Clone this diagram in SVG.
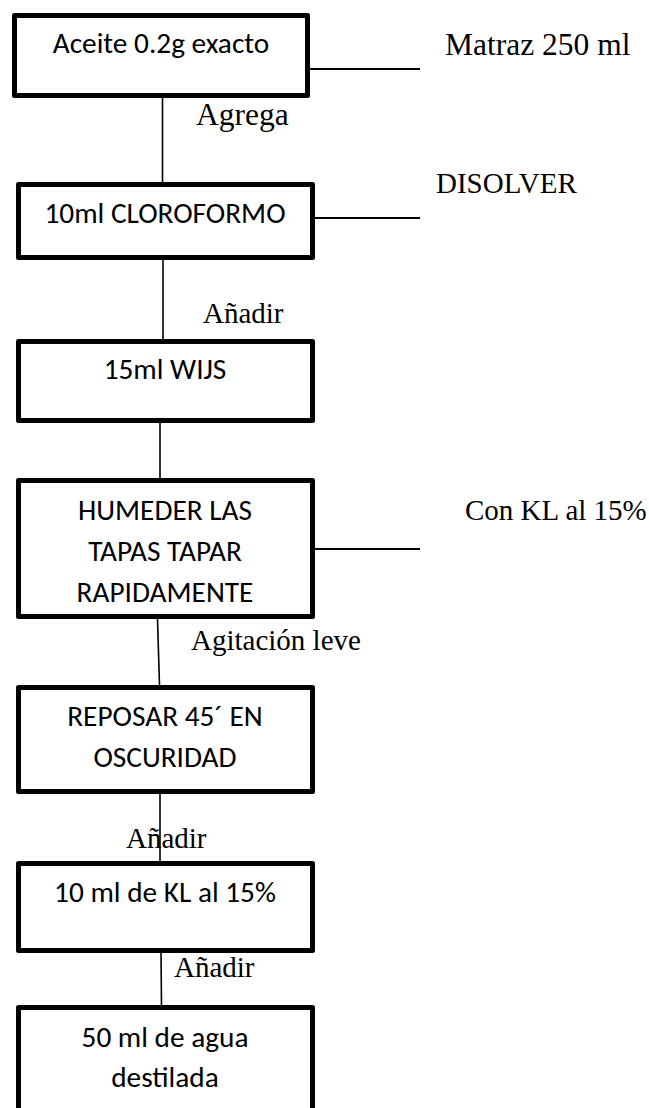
<svg xmlns="http://www.w3.org/2000/svg" width="649" height="1108" viewBox="0 0 649 1108">
  <style>
    .box { fill: #ffffff; stroke: #000000; stroke-width: 5; stroke-linejoin: round; }
    .step { font-family: Carlito, Calibri, Lato, "Liberation Sans", sans-serif; font-size: 29.3px; fill: #000000; text-anchor: middle; }
    .note { font-family: "Liberation Serif", "Times New Roman", serif; font-size: 29px; fill: #000000; }
    .big { font-size: 31.5px; }
    .link { stroke: #000000; stroke-width: 1.6; fill: none; }
    .side { stroke: #000000; stroke-width: 2.2; fill: none; }
  </style>
  <rect width="649" height="1108" fill="#ffffff"/>

  <!-- connectors -->
  <g id="connectors">
    <line class="link" x1="162.5" y1="98" x2="162.5" y2="182"/>
    <line class="link" x1="163" y1="260" x2="163" y2="339"/>
    <line class="link" x1="160" y1="423" x2="160" y2="478"/>
    <line class="link" x1="157.5" y1="619" x2="159.5" y2="685"/>
    <line class="link" x1="160" y1="794" x2="160" y2="861"/>
    <line class="link" x1="161" y1="953" x2="161.5" y2="1005"/>
    <line class="side" x1="310" y1="69" x2="420" y2="69"/>
    <line class="side" x1="315" y1="218" x2="420" y2="218"/>
    <line class="side" x1="315" y1="549" x2="420" y2="549"/>
  </g>

  <!-- process steps -->
  <g id="step-aceite">
    <rect class="box" x="14.5" y="15.5" width="293" height="80"/>
    <text class="step" x="161" y="53">Aceite 0.2g exacto</text>
  </g>
  <g id="step-cloroformo">
    <rect class="box" x="18.5" y="184.5" width="294" height="73"/>
    <text class="step" x="165" y="223">10ml CLOROFORMO</text>
  </g>
  <g id="step-wijs">
    <rect class="box" x="18.5" y="341.5" width="294" height="79"/>
    <text class="step" x="165" y="379">15ml WIJS</text>
  </g>
  <g id="step-humedecer">
    <rect class="box" x="18.5" y="480.5" width="294" height="136"/>
    <text class="step" x="165" y="520">HUMEDER LAS</text>
    <text class="step" x="165" y="561">TAPAS TAPAR</text>
    <text class="step" x="165" y="602">RAPIDAMENTE</text>
  </g>
  <g id="step-reposar">
    <rect class="box" x="18.5" y="687.5" width="294" height="104"/>
    <text class="step" x="165" y="726">REPOSAR 45´ EN</text>
    <text class="step" x="165" y="767">OSCURIDAD</text>
  </g>
  <g id="step-kl">
    <rect class="box" x="18.5" y="863.5" width="294" height="87"/>
    <text class="step" x="165" y="902">10 ml de KL al 15%</text>
  </g>
  <g id="step-agua">
    <rect class="box" x="18.5" y="1007.5" width="294" height="110"/>
    <text class="step" x="165" y="1047">50 ml de agua</text>
    <text class="step" x="165" y="1087">destilada</text>
  </g>

  <!-- annotations -->
  <g id="notes">
    <text class="note big" x="445" y="55">Matraz 250 ml</text>
    <text class="note big" x="196" y="125">Agrega</text>
    <text class="note" x="436" y="193">DISOLVER</text>
    <text class="note" x="203" y="323">Añadir</text>
    <text class="note" x="465" y="520">Con KL al 15%</text>
    <text class="note" x="191" y="650">Agitación leve</text>
    <text class="note" x="126" y="848">Añadir</text>
    <text class="note" x="174" y="977">Añadir</text>
  </g>
</svg>
